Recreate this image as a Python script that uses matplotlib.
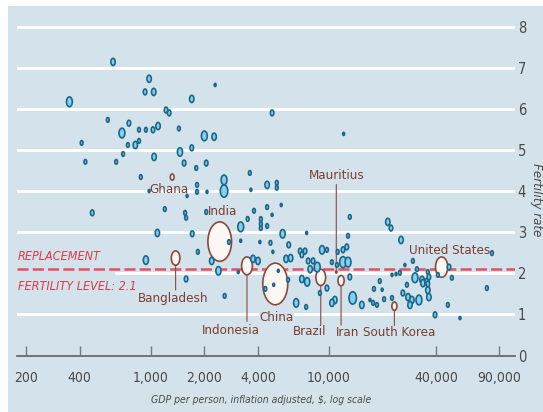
import numpy as np
import matplotlib
matplotlib.use('Agg')
import matplotlib.pyplot as plt
from matplotlib.path import Path
from matplotlib.transforms import Affine2D, blended_transform_factory
from matplotlib.patches import Rectangle

# unnamed countries: GDP per person ($), fertility rate, population (m)
gdp = [615, 350, 980, 930, 1040, 1700, 1220, 1270, 575, 755,
       690, 860, 940, 1030, 1100, 1440, 410, 745, 820, 860,
       1700, 700, 430, 640, 1045, 1460, 1540, 1800, 880, 980,
       1600, 1820, 1820, 2300, 4800, 2000, 2270, 12100, 2050, 3600,
       2580, 2580, 4500, 5100, 5100, 2070, 3650, 470, 1200, 1560,
       1580, 1090, 1710, 1840, 940, 1580, 2050, 2750, 3200, 3500,
       3800, 4500, 5400, 4150, 4150, 4150, 4500, 3200, 4100, 4700,
       4850, 5500, 5950, 7500, 6900, 7350, 7050, 5750, 6100, 2200,
       2400, 3750, 4000, 3100, 5200, 4900, 4400, 5900, 2600, 6550,
       7450, 7050, 7550, 7850, 8600, 7650, 8150, 9750, 8900, 9150,
       9750, 10400, 11100, 12000, 12800, 10800, 10400, 11200, 12000, 12600,
       12800, 13100, 13100, 4800, 21400, 22300, 25400, 29600, 26700, 22600,
       23800, 25000, 31200, 30400, 33300, 33700, 35500, 36400, 35900, 19300,
       17900, 19900, 17000, 17700, 18600, 20400, 22600, 13600, 15300, 27400,
       26000, 27800, 29200, 28500, 32000, 35900, 36400, 35900, 39400, 40900,
       47200, 49000, 46500, 54400, 77000, 82200]
fert = [7.14, 6.17, 6.73, 6.41, 6.41, 6.24, 5.97, 5.90, 5.73, 5.65,
        5.41, 5.49, 5.49, 5.49, 5.58, 5.52, 5.17, 5.12, 5.12, 5.22,
        5.05, 4.90, 4.71, 4.71, 4.83, 4.95, 4.68, 4.56, 4.34, 4.00,
        3.88, 4.15, 3.98, 6.58, 5.90, 5.34, 5.32, 5.39, 4.68, 4.44,
        4.27, 4.00, 4.15, 4.20, 4.08, 3.98, 4.03, 3.47, 3.56, 3.47,
        3.35, 2.98, 2.96, 2.52, 2.32, 1.86, 3.49, 2.76, 3.13, 3.32,
        3.52, 3.61, 3.66, 3.32, 3.20, 3.10, 3.15, 2.79, 2.76, 2.74,
        2.52, 2.96, 2.69, 2.98, 2.54, 2.54, 2.45, 2.35, 2.37, 2.30,
        2.06, 2.35, 2.30, 2.03, 2.06, 1.72, 1.62, 1.84, 1.45, 1.28,
        1.18, 1.86, 1.79, 2.10, 2.15, 2.30, 2.30, 1.64, 1.52, 2.57,
        2.57, 2.27, 2.20, 2.27, 2.27, 1.35, 1.28, 2.52, 2.57, 2.64,
        2.91, 1.91, 3.37, 3.42, 3.25, 3.10, 2.81, 2.30, 2.20, 1.96,
        1.98, 2.01, 2.10, 1.89, 1.84, 1.76, 1.79, 1.91, 2.03, 1.81,
        1.62, 1.60, 1.35, 1.28, 1.23, 1.37, 1.40, 1.40, 1.23, 1.72,
        1.52, 1.42, 1.35, 1.23, 1.35, 1.59, 1.42, 1.74, 0.99, 1.96,
        2.15, 1.89, 1.23, 0.91, 1.64, 2.49]
pop = [35, 67, 35, 22, 35, 35, 22, 22, 13, 22,
       67, 13, 13, 22, 35, 13, 13, 13, 35, 13,
       22, 13, 13, 13, 35, 50, 22, 13, 13, 5,
       5, 13, 13, 5, 22, 67, 35, 5, 22, 13,
       67, 111, 35, 13, 13, 5, 5, 22, 13, 13,
       13, 35, 22, 13, 50, 22, 13, 13, 67, 13,
       13, 13, 5, 13, 13, 13, 13, 5, 5, 13,
       5, 50, 22, 5, 22, 22, 22, 35, 35, 35,
       50, 35, 35, 5, 5, 5, 13, 13, 13, 50,
       13, 35, 50, 35, 67, 22, 22, 22, 13, 50,
       13, 13, 13, 88, 67, 35, 35, 13, 22, 22,
       13, 22, 13, 5, 35, 22, 35, 13, 5, 5,
       5, 13, 13, 67, 35, 35, 35, 22, 13, 13,
       13, 5, 5, 13, 13, 13, 13, 111, 35, 13,
       22, 35, 35, 35, 67, 35, 35, 22, 22, 13,
       22, 13, 13, 5, 13, 13]

# named countries
names = ['Ghana', 'Bangladesh', 'India', 'Indonesia', 'China',
         'Brazil', 'Iran', 'South Korea', 'United States', 'Mauritius']
named_gdp = [1320, 1380, 2440, 3470, 5000, 9000, 11700, 23300, 42900, 11000]
named_fert = [4.34, 2.37, 2.77, 2.18, 1.74, 1.90, 1.82, 1.20, 2.15, 2.03]
named_pop = [25, 150, 1200, 240, 1340, 195, 75, 49, 310, 1.3]

replacement = 2.1
xticks = [200, 400, 1000, 2000, 4000, 10000, 40000, 90000]
xticklabels = ['200', '400', '1,000', '2,000', '4,000', '10,000', '40,000', '90,000']
yticks = list(range(0, 9))

# label offsets in points (dx, dy) and leader length (points, + up / - down)
label_pos = {
    'Ghana': (-2.3, -9.2, 0), 'Bangladesh': (-1.8, -29.4, -23),
    'India': (2.3, 21.8, 0), 'Indonesia': (-11.4, -46.2, -40),
    'China': (1.1, -24.3, 0), 'Brazil': (-7.8, -38.9, -34),
    'Iran': (4.8, -37.6, -32), 'South Korea': (3.6, -19.3, -14),
    'United States': (5.5, 12.2, 0), 'Mauritius': (0.4, 69.5, 63),
}

BG = '#d4e2eb'
BLUE_FILL = '#84d0f0'
BLUE_EDGE = '#1c6787'
BROWN = '#8a4a3b'
LABEL = '#7a3e30'
RED = '#dc3a4c'
GREY = '#4a4a4a'
FONT = dict(family='DejaVu Sans', stretch='condensed')

plt.rcParams['lines.scale_dashes'] = False

fig = plt.figure(figsize=(5.43, 4.12), dpi=100)
fig.patch.set_facecolor('white')
fig.patches.append(Rectangle((8 / 543, 0), 1 - 8 / 543, 406 / 412,
                             transform=fig.transFigure, facecolor=BG,
                             edgecolor='none', zorder=-1))

ax = fig.add_axes([17 / 543, 56.5 / 412, 498 / 543, 349.5 / 412])
ax.set_facecolor('none')
ax.set_xscale('log')
ax.set_xlim(177.8, 110700)
ax.set_ylim(0, 8.5)

# gridlines
for y in range(1, 9):
    xmin = 0.199 if y == 2 else 0
    ax.axhline(y, xmin=xmin, xmax=1, color='white', lw=2, zorder=1)

ax.axhline(replacement, color='#e4505e', lw=1.8, dashes=(8, 3), zorder=2)

# bubbles, largest first so small dots sit on top
ellipse = Affine2D().scale(0.6, 1.0).transform_path(Path.unit_circle())
all_gdp = np.array(gdp + named_gdp, dtype=float)
all_fert = np.array(fert + named_fert, dtype=float)
all_pop = np.array(pop + named_pop, dtype=float)
is_named = np.array([False] * len(gdp) + [True] * len(named_gdp))
order = np.argsort(-all_pop, kind='stable')

r_px = 1.1 + 0.56 * np.sqrt(all_pop)
sizes = np.clip((2 * r_px - 1.6) * 0.72, 1.6, None) ** 2
faces = np.where(is_named, '#fcf7f3', BLUE_FILL)
edges = np.where(is_named, BROWN, BLUE_EDGE)

ax.scatter(all_gdp[order], all_fert[order], s=sizes[order], marker=ellipse,
           facecolors=faces[order], edgecolors=edges[order], linewidths=1.2,
           zorder=3)

# labels and leader lines; China's label knocks out the gridline behind it
for name, g, f in zip(names, named_gdp, named_fert):
    dx, dy, lead = label_pos[name]
    if lead:
        ax.annotate('', xy=(g, f), xytext=(0, lead), textcoords='offset points',
                    arrowprops=dict(arrowstyle='-', color=BROWN, lw=0.8,
                                    shrinkA=0, shrinkB=0), zorder=2.5)
    box = dict(facecolor=BG, edgecolor='none', pad=0.3) if name == 'China' else None
    ax.annotate(name, xy=(g, f), xytext=(dx, dy), textcoords='offset points',
                ha='center', va='center', color=LABEL, fontsize=9.5,
                zorder=5, bbox=box, **FONT)

trans = blended_transform_factory(ax.transAxes, ax.transData)
ax.text(0.002, 2.40, 'REPLACEMENT', transform=trans, color=RED, fontsize=9,
        style='italic', ha='left', va='center', **FONT)
ax.text(0.002, 1.69, 'FERTILITY LEVEL: 2.1', transform=trans, color=RED,
        fontsize=9, style='italic', ha='left', va='center', **FONT)

# axes
for side in ['top', 'left', 'right']:
    ax.spines[side].set_visible(False)
ax.spines['bottom'].set_color('#6a6a6a')
ax.spines['bottom'].set_linewidth(1.3)
ax.spines['bottom'].set_zorder(1.5)

ax.set_xticks(xticks)
ax.set_xticklabels(xticklabels)
ax.xaxis.set_minor_locator(matplotlib.ticker.NullLocator())
ax.tick_params(axis='x', direction='in', length=7, width=1, color='#777777',
               pad=11, labelsize=10, labelcolor=GREY)

ax.yaxis.tick_right()
ax.set_yticks(yticks)
ax.set_yticklabels([str(v) for v in yticks])
ax.tick_params(axis='y', length=0, pad=2, labelsize=10.5, labelcolor=GREY)
for lab in ax.get_xticklabels() + ax.get_yticklabels():
    lab.set_family(FONT['family'])
    lab.set_stretch(FONT['stretch'])

ax.text(0.491, -0.127, 'GDP per person, inflation adjusted, $, log scale',
        transform=ax.transAxes, ha='center', va='center', fontsize=7.5,
        style='italic', color=GREY, **FONT)
ax.text(1.044, 0.445, 'Fertility rate', transform=ax.transAxes, rotation=270,
        ha='center', va='center', fontsize=9.5, style='italic', color=GREY,
        **FONT)

fig.savefig('out.png', dpi=100)
